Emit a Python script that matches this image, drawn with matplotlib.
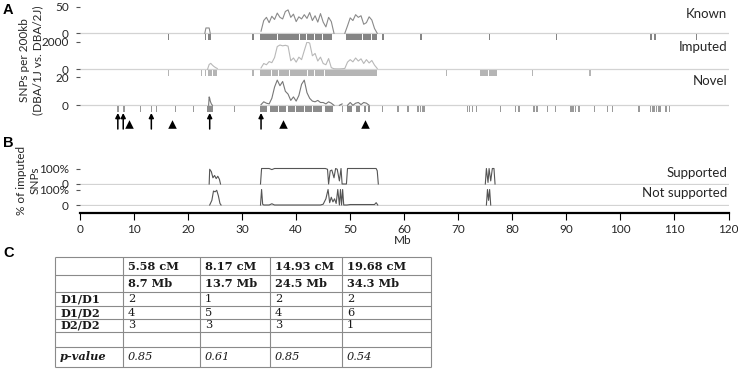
import numpy as np
import matplotlib
matplotlib.use("Agg")
import matplotlib.pyplot as plt

# ---- data -------------------------------------------------------------
# 0.5 Mb windows over the 33.5-55 Mb region
win_mb = [33.5, 34.0, 34.5, 35.0, 35.5, 36.0, 36.5, 37.0, 37.5, 38.0, 38.5,
          39.0, 39.5, 40.0, 40.5, 41.0, 41.5, 42.0, 42.5, 43.0, 43.5, 44.0,
          44.5, 45.0, 45.5, 46.0, 46.5, 47.0, 47.5, 48.0, 48.5, 49.0, 49.5,
          50.0, 50.5, 51.0, 51.5, 52.0, 52.5, 53.0, 53.5, 54.0, 54.5, 55.0]
nan = np.nan
known = [4, 24, 30, 20, 32, 26, 38, 30, 27, 41, 44, 30, 36, 22, 31, 27, 35,
         28, 39, 24, 33, 21, 37, 21, 12, 30, 22, 0, nan, nan, nan, 0, 14,
         29, 24, 35, 30, 33, 17, 20, 31, 25, 9, 0]
imputed = [100, 420, 330, 560, 480, 850, 1650, 1760, 1700, 1740, 1680, 620,
           820, 520, 880, 700, 1350, 1980, 1900, 980, 1150, 600, 880, 420,
           330, 780, 120, 40, 30, 30, 40, 60, 520, 700, 540, 820, 600, 760,
           420, 700, 460, 640, 300, 60]
novel = [0.5, 2.5, 1.5, 1.0, 5, 13, 18, 14, 17, 10, 8, 3.5, 6, 3, 7, 15, 18,
         9, 5, 3, 2.5, 3.5, 2, 2, 1, 2.5, 1.5, 0, nan, 0, 1, nan, 0, 2, 0,
         1.5, 2, 0.5, 2, 1.5, 0, nan, nan, nan]

# small peaks around 24 Mb
known_peak_mb = [23.1, 23.3, 23.6, 23.9, 24.1]
known_peak = [0, 10, 10, 10, 0]
imputed_peak_mb = [23.6, 23.9, 24.2, 24.5, 24.8, 25.1, 25.4]
imputed_peak = [0, 350, 430, 300, 200, 120, 60]
novel_peak_mb = [23.8, 23.9, 24.0, 24.1, 24.3, 24.5]
novel_peak = [0, 6, 5, 3, 1, 0]

# SNP coverage blocks (start, end) in Mb
known_blocks = [(16.2, 16.5), (23.1, 23.4), (23.7, 24.2), (31.9, 32.2),
                (33.4, 36.5), (36.7, 40.5), (40.7, 41.8), (42.0, 43.3),
                (43.5, 44.8), (45.0, 46.6), (49.3, 52.2), (52.4, 53.8),
                (54.0, 54.9), (55.9, 56.2), (63.0, 63.3), (75.6, 75.9),
                (88.0, 88.3), (105.5, 105.8), (106.2, 106.5), (113.9, 114.2)]
imputed_blocks = [(16.2, 16.5), (22.3, 22.6), (23.1, 23.4), (23.6, 24.4),
                  (24.6, 25.4), (31.9, 32.2), (33.3, 35.4), (35.6, 36.7),
                  (36.9, 38.6), (38.8, 42.0), (42.2, 43.3), (43.5, 45.1),
                  (45.3, 55.0), (67.7, 68.0), (74.0, 75.5), (75.7, 77.2),
                  (83.6, 83.9), (94.2, 94.5)]
novel_blocks = [(23.5, 24.0), (24.1, 24.6), (33.3, 34.6), (35.2, 36.6),
                (36.8, 38.2), (38.4, 39.8), (40.0, 41.4), (41.6, 43.0),
                (43.2, 44.8), (45.4, 46.9), (49.4, 50.3), (51.1, 51.9),
                (52.6, 53.0), (53.3, 53.6)]
novel_snps = [6.9, 8.0, 11.1, 13.1, 14.0, 17.6, 20.9, 28.5, 48.4, 55.8, 58.7,
              60.6, 62.4, 62.9, 63.2, 63.5, 71.6, 72.0, 72.5, 73.3, 77.7,
              80.5, 81.1, 83.9, 84.3, 84.5, 86.4, 87.9, 90.7, 91.1, 91.6,
              92.2, 95.1, 97.5, 98.4, 103.3, 105.4, 105.8, 106.1, 106.6,
              106.9, 107.2, 108.3, 108.9]

arrows_mb = [7.0, 8.0, 13.2, 24.0, 33.5]
triangles_mb = [9.0, 17.0, 37.5, 52.8]

# panel B: % of imputed SNPs
supported_mb = [23.9, 24.0, 24.3, 24.6, 24.9, 25.2, 25.5, 25.8, 26.0, nan,
                33.4, 33.6, 35.0, 35.5, 36.0, 45.4, 45.8, 46.0, 46.3, 46.6,
                47.0, 47.3, 47.6, 48.0, 48.3, 48.5, 49.3, 49.5, 54.8, 55.0,
                55.2, nan,
                75.0, 75.2, 75.5, 75.7, 76.0, 76.3, 76.6, 76.8]
supported = [0, 95, 80, 40, 55, 35, 50, 30, 0, nan,
             0, 100, 100, 93, 100, 100, 95, 0, 85, 90,
             40, 100, 95, 20, 100, 0, 0, 100, 100, 85,
             0, nan,
             0, 100, 10, 100, 20, 100, 100, 0]
not_supported_mb = [24.0, 24.4, 24.7, 25.0, 25.3, 25.6, 25.9, 26.1, nan,
                    33.4, 33.6, 33.8, 34.0, 35.0, 35.5, 36.0, 44.5, 45.0,
                    45.5, 45.9, 46.2, 46.5, 46.8, 47.1, 47.4, 47.7, 48.0,
                    48.2, 48.4, 48.6, 48.8, 49.4, 50.0, 54.5, 54.8, 55.1, nan,
                    75.2, 75.4, 75.6, 75.8, 76.0]
not_supported = [0, 30, 90, 85, 95, 60, 10, 0, nan,
                 0, 100, 5, 0, 0, 8, 0, 0, 5,
                 40, 100, 15, 50, 20, 40, 10, 100, 0,
                 100, 0, 100, 0, 0, 3, 3, 15, 0, nan,
                 0, 100, 30, 100, 0]

# panel C table
markers_cm = ["5.58 cM", "8.17 cM", "14.93 cM", "19.68 cM"]
markers_mb = ["8.7 Mb", "13.7 Mb", "24.5 Mb", "34.3 Mb"]
genotypes = ["D1/D1", "D1/D2", "D2/D2"]
counts = [[2, 1, 2, 2],
          [4, 5, 4, 6],
          [3, 3, 3, 1]]
p_values = ["0.85", "0.61", "0.85", "0.54"]

# ---- layout (pixels) --------------------------------------------------
W, H = 738, 371
fig = plt.figure(figsize=(W / 100, H / 100), dpi=100)
X0, X1 = 80, 728.5
SANS = ["Lato", "DejaVu Sans"]
TXT = "#262626"


def box(left, top, width, height):
    return [left / W, 1 - (top + height) / H, width / W, height / H]


def fig_text(x, y, s, **kw):
    fig.text(x / W, 1 - y / H, s, **kw)


def track(top, zero, bottom, ymax, labels):
    ax = fig.add_axes(box(X0, top, X1 - X0, bottom - top))
    ymin = -ymax * (bottom - zero) / (zero - top)
    ax.set_xlim(0, 120)
    ax.set_ylim(ymin, ymax)
    for s in ax.spines.values():
        s.set_visible(False)
    ax.set_xticks([])
    ax.set_yticks([0, ymax])
    ax.set_yticklabels(labels, family=SANS)
    ax.tick_params(axis="y", length=3, width=0.8, color="#555555", pad=5,
                   labelsize=8.5, labelcolor=TXT)
    ax.axhline(0, color="#d3d3d3", lw=0.9, zorder=1)
    ax.patch.set_alpha(0)
    return ax, ymin


def blocks(ax, ymin, spans, color):
    ax.broken_barh([(s, e - s) for s, e in spans], (ymin, -ymin * 0.92),
                   facecolor=color, edgecolor="none", zorder=2)


# Panel A
ax_k, kmin = track(6.7, 33.3, 40, 50, ["0", "50"])
ax_k.plot(win_mb, known, color="#8a8a8a", lw=0.8, zorder=3)
ax_k.plot(known_peak_mb, known_peak, color="#8a8a8a", lw=0.8, zorder=3)
blocks(ax_k, kmin, known_blocks, "#858585")

ax_i, imin = track(41.7, 69.3, 76, 2000, ["0", "2000"])
ax_i.plot(win_mb, imputed, color="#b8b8b8", lw=0.8, zorder=3)
ax_i.plot(imputed_peak_mb, imputed_peak, color="#b8b8b8", lw=0.8, zorder=3)
blocks(ax_i, imin, imputed_blocks, "#b5b5b5")

ax_n, nmin = track(77.3, 105.3, 112, 20, ["0", "20"])
ax_n.plot(win_mb, novel, color="#777777", lw=0.8, zorder=3)
ax_n.plot(novel_peak_mb, novel_peak, color="#777777", lw=0.8, zorder=3)
blocks(ax_n, nmin, novel_blocks, "#8c8c8c")
blocks(ax_n, nmin, [(m, m + 0.25) for m in novel_snps], "#9a9a9a")

# arrows and triangles under the novel track
ax_m = fig.add_axes(box(X0, 113, X1 - X0, 16))
ax_m.set_xlim(0, 120)
ax_m.set_ylim(0, 1)
ax_m.axis("off")
for m in arrows_mb:
    ax_m.annotate("", xy=(m, 1.0), xytext=(m, 0.0),
                  arrowprops=dict(arrowstyle="-|>", color="black", lw=1.1,
                                  mutation_scale=7, shrinkA=0, shrinkB=0))
ax_m.scatter(triangles_mb, [0.3] * len(triangles_mb), marker="^", s=38,
             color="black", linewidths=0)

# Panel B
ax_s, _ = track(168.5, 184, 185, 100, ["0", "100%"])
ax_s.plot(supported_mb, supported, color="#555555", lw=0.8, zorder=3,
          clip_on=False)
ax_ns, _ = track(189.5, 205, 206, 100, ["0", "100%"])
ax_ns.plot(not_supported_mb, not_supported, color="#555555", lw=0.8,
           zorder=3, clip_on=False)

# Mb axis
ax_x = fig.add_axes(box(X0, 207, X1 - X0, 5.7))
ax_x.set_xlim(0, 120)
ax_x.set_yticks([])
for k in ["left", "right", "top"]:
    ax_x.spines[k].set_visible(False)
ax_x.spines["bottom"].set_linewidth(1.6)
ax_x.set_xticks(range(0, 121, 10))
ax_x.set_xticklabels([str(v) for v in range(0, 121, 10)], family=SANS)
ax_x.tick_params(axis="x", length=5, width=0.8, pad=3, labelsize=8.5,
                 labelcolor=TXT)
ax_x.patch.set_alpha(0)
fig_text(403, 241, "Mb", ha="center", va="center", fontsize=8.5,
         family=SANS, color=TXT)

# track labels
for y, s in [(14, "Known"), (47, "Imputed"), (81, "Novel"),
             (173, "Supported"), (193, "Not supported")]:
    fig_text(727, y, s, ha="right", va="center", fontsize=9.5, family=SANS,
             color=TXT)

fig_text(31, 60, "SNPs per 200kb\n(DBA/1J vs. DBA/2J)", rotation=90,
         ha="center", va="center", fontsize=8.5, family=SANS, color=TXT,
         linespacing=1.25)
fig_text(28, 180, "% of imputed\nSNPs", rotation=90, ha="center",
         va="center", fontsize=8.5, family=SANS, color=TXT,
         linespacing=1.25)

for y, s in [(10, "A"), (143, "B"), (253, "C")]:
    fig_text(3, y, s, ha="left", va="center", fontsize=10.5,
             fontweight="bold", family="Liberation Sans")

# Panel C table
col_edges = [55, 123, 200, 270, 342, 431]
row_edges = [257, 275, 292, 306, 319, 332, 347, 367]
ax_t = fig.add_axes([0, 0, 1, 1])
ax_t.set_xlim(0, W)
ax_t.set_ylim(H, 0)
ax_t.axis("off")
ax_t.hlines(row_edges, col_edges[0], col_edges[-1], color="#8a8a8a", lw=0.8)
ax_t.vlines(col_edges, row_edges[0], row_edges[-1], color="#8a8a8a", lw=0.8)

SERIF = "DejaVu Serif"
rows = [[""] + markers_cm, [""] + markers_mb]
rows += [[g] + [str(c) for c in cs] for g, cs in zip(genotypes, counts)]
rows += [[""] * 5, ["p-value"] + p_values]
for r, cells in enumerate(rows):
    yc = (row_edges[r] + row_edges[r + 1]) / 2
    for c, s in enumerate(cells):
        bold = r < 2 or c == 0
        italic = r == len(rows) - 1
        ax_t.text(col_edges[c] + 5, yc, s, ha="left", va="center",
                  fontsize=8.2, family=SERIF, color="#1a1a1a",
                  fontweight="bold" if bold else "normal",
                  fontstyle="italic" if italic else "normal")

fig.savefig("out.png", dpi=100)
